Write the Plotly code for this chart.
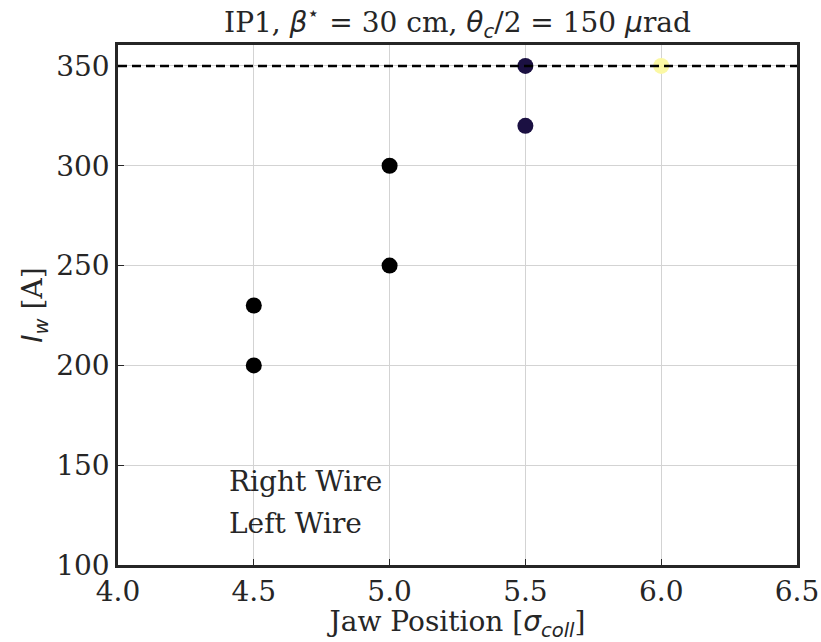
import plotly.graph_objects as go

jaw = [4.5, 4.5, 5.0, 5.0, 5.5, 5.5, 6.0]
current = [230, 200, 300, 250, 350, 320, 350]
colors = ["#000000", "#000000", "#000000", "#000000", "#1b1042", "#1b1042", "#fbf8a4"]
limit_current = 350
x_ticks = [4.0, 4.5, 5.0, 5.5, 6.0, 6.5]
y_ticks = [100, 150, 200, 250, 300, 350]

font = "DejaVu Serif"
sans_it = "<span style='font-family:DejaVu Sans'><i>{}</i></span>"
fs = 28
fig = go.Figure()
fig.add_trace(go.Scatter(x=jaw, y=current, mode="markers",
                         marker=dict(size=16, color=colors, line=dict(width=0)),
                         showlegend=False))
fig.add_shape(type="line", xref="paper", x0=0, x1=1, yref="y", y0=limit_current, y1=limit_current,
              line=dict(color="black", width=2.4, dash="9px,5px"), layer="above")
fig.add_annotation(x=4.4, y=142, xref="x", yref="y", text="Right Wire", showarrow=False,
                   xanchor="left", font=dict(family=font, size=fs, color="#262626"))
fig.add_annotation(x=4.4, y=121, xref="x", yref="y", text="Left Wire", showarrow=False,
                   xanchor="left", font=dict(family=font, size=fs, color="#262626"))

axis_common = dict(showline=True, mirror=True, linecolor="#262626", linewidth=2.5,
                   showgrid=True, gridcolor="#d3d3d3", gridwidth=1.3,
                   ticks="inside", ticklen=6, tickcolor="#262626", tickwidth=1,
                   zeroline=False, automargin=False,
                   tickfont=dict(family=font, size=fs, color="#262626"))
fig.update_xaxes(range=[4.0, 6.5], tickvals=x_ticks, ticktext=[f"{v:.1f}" for v in x_ticks],
                 title=dict(text="Jaw Position [" + sans_it.format("σ<sub>coll</sub>") + "]", standoff=6,
                            font=dict(family=font, size=fs, color="#262626")),
                 **axis_common)
fig.update_yaxes(range=[100, 360.5], tickvals=y_ticks,
                 title=dict(text=sans_it.format("I<sub>w</sub>") + " [A]", standoff=6,
                            font=dict(family=font, size=fs, color="#262626")),
                 **axis_common)
fig.update_layout(width=821, height=642, plot_bgcolor="white", paper_bgcolor="white",
                  margin=dict(l=118, r=24, t=45, b=77, autoexpand=False),
                  title=dict(text="IP1, " + sans_it.format("β") + "<sup>⋆</sup> = 30 cm, "
                             + sans_it.format("θ<sub>c</sub>") + "/2 = 150 " + sans_it.format("μ") + "rad",
                             x=0.5, xanchor="center", xref="paper", y=1, yref="paper", yanchor="bottom",
                             pad=dict(b=13),
                             font=dict(family=font, size=fs, color="#262626")))
fig.write_html("out.html")
